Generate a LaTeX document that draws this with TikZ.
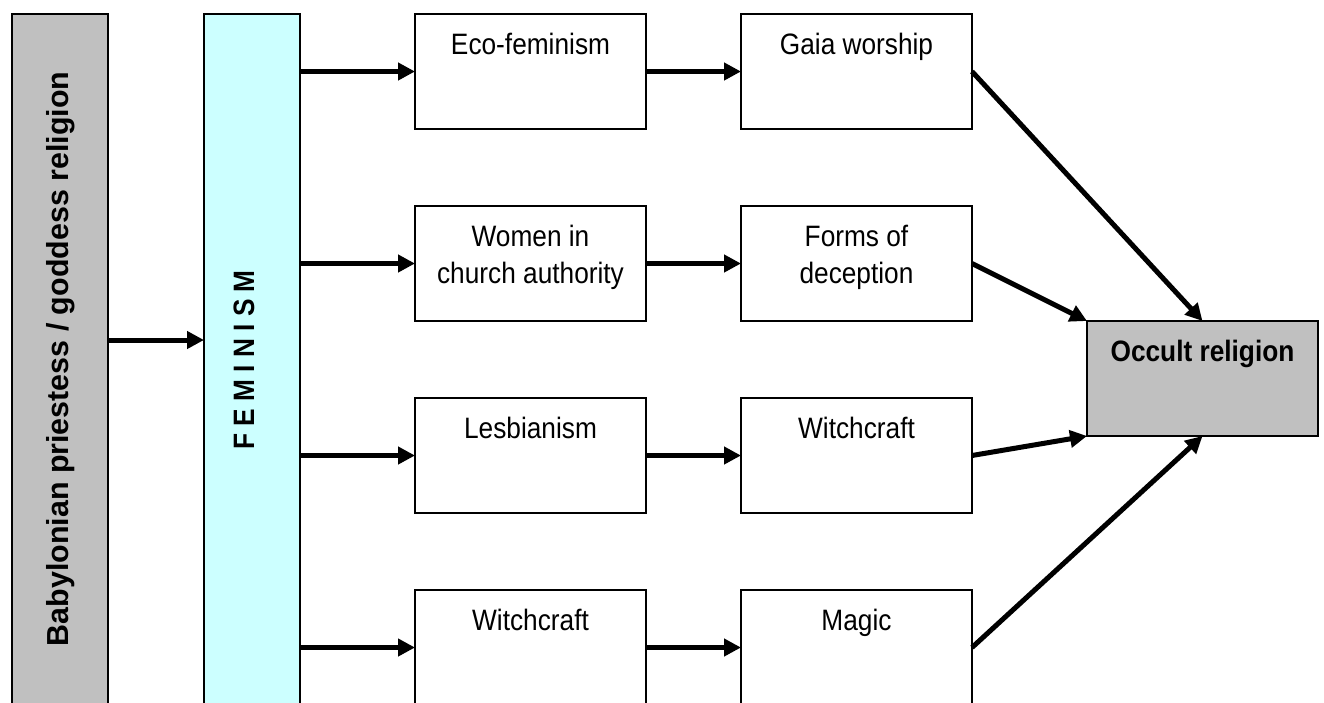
\documentclass[tikz,border=0pt]{standalone}
\usepackage{fontspec}
\setmainfont{Liberation Sans}
\newfontfamily\condfont[FakeStretch=0.89]{Liberation Sans}
\usetikzlibrary{arrows.meta}
\definecolor{silver}{HTML}{C0C0C0}
\definecolor{paleaqua}{HTML}{CCFFFF}
% text of a stage box: top aligned, first baseline 40pt below the top edge
\newcommand\boxlabel[1]{\parbox[t][115pt][t]{231pt}{\centering\rule{0pt}{40pt}#1}}

\begin{document}
\begin{tikzpicture}[x=1pt,y=-1pt,
  frame/.style={draw=black, line width=1.2pt},
  stage/.style={frame, fill=white, inner sep=0pt, outer sep=0pt, anchor=north west,
    font=\condfont\fontsize{29.5}{37}\selectfont},
  bar/.style={frame, inner sep=0pt, outer sep=0pt, anchor=north west,
    minimum width=96pt, minimum height=720pt},
  flow/.style={line width=5pt, -{Triangle[length=17pt,width=17pt]}},
]
\useasboundingbox (0,0) rectangle (1324,702);
\clip (0,0) rectangle (1324,702);

% the two vertical bars
\node[bar, fill=silver] (src) at (12,14) {};
\node[bar, fill=paleaqua] (fem) at (204,14) {};
\node[rotate=90, anchor=base, font=\bfseries\fontsize{30.4}{36}\selectfont] (srctext) at (68.3,359)
  {Babylonian priestess / goddess religion};
\node[rotate=90, anchor=base, font=\condfont\bfseries\fontsize{29.5}{36}\selectfont] (femtext) at (254,360)
  {F E M I N I S M};

% the stages
\node[stage] (eco)    at (415,14)  {\boxlabel{Eco-feminism}};
\node[stage] (gaia)   at (741,14)  {\boxlabel{Gaia worship}};
\node[stage] (women)  at (415,206) {\boxlabel{Women in\\church authority}};
\node[stage] (forms)  at (741,206) {\boxlabel{Forms of\\deception}};
\node[stage] (lesb)   at (415,398) {\boxlabel{Lesbianism}};
\node[stage] (witch)  at (741,398) {\boxlabel{Witchcraft}};
\node[stage] (witch2) at (415,590) {\boxlabel{Witchcraft}};
\node[stage] (magic)  at (741,590) {\boxlabel{Magic}};
\node[stage, fill=silver] (occ) at (1087,321) {\boxlabel{\bfseries Occult religion}};

% connectors
\coordinate (split) at (150,340);
\draw[flow] (src.east |- split) -- (fem.west |- split);
\foreach \a/\b in {eco/gaia, women/forms, lesb/witch, witch2/magic} {
  \draw[flow] (fem.east |- \a.west) -- (\a.west);
  \draw[flow] (\a.east) -- (\b.west);
}
\draw[flow] (gaia.east)  -- (occ.north);
\draw[flow] (forms.east) -- (occ.north west);
\draw[flow] (witch.east) -- (occ.south west);
\draw[flow] (magic.east) -- (occ.south);
\end{tikzpicture}
\end{document}
